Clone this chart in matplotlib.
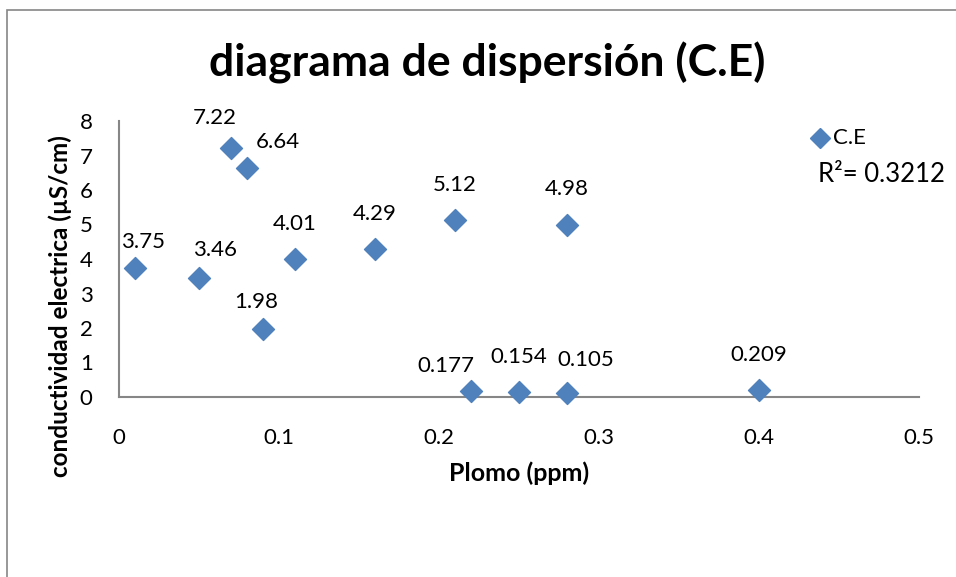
import matplotlib.pyplot as plt
from matplotlib.patches import Rectangle

# data
plomo = [0.01, 0.05, 0.07, 0.08, 0.09, 0.11, 0.16, 0.21, 0.28, 0.22, 0.25, 0.28, 0.40]
ce = [3.75, 3.46, 7.22, 6.64, 1.98, 4.01, 4.29, 5.12, 4.98, 0.177, 0.154, 0.105, 0.209]
etiquetas = ['3.75', '3.46', '7.22', '6.64', '1.98', '4.01', '4.29', '5.12', '4.98',
             '0.177', '0.154', '0.105', '0.209']
x_ticks = [0, 0.1, 0.2, 0.3, 0.4, 0.5]
y_ticks = [0, 1, 2, 3, 4, 5, 6, 7, 8]
r2 = 0.3212

# label offsets in pixels (dx, dy up)
offs = [(8, 26), (16, 28), (-16, 30), (31, 26), (-7, 27), (0, 35), (0, 35),
        (0, 35), (0, 36), (-25, 25), (0, 35), (19, 33), (0, 35)]

plt.rcParams['font.family'] = ['Lato', 'DejaVu Sans']
azul = '#4F81BD'
gris = '#868686'

fig = plt.figure(figsize=(9.56, 5.77), dpi=100)
# chart frame (only partly visible, like the screenshot)
fig.patches.append(Rectangle((7/956, -0.1), 1.0, 1 - 10/577 + 0.1, transform=fig.transFigure,
                             fill=False, edgecolor=gris, lw=1.2))

ax = fig.add_axes([119/956, 1 - 397/577, 800/956, 276/577])
ax.scatter(plomo, ce, marker='D', s=125, color=azul, zorder=3, clip_on=False)
for x, y, t, (dx, dy) in zip(plomo, ce, etiquetas, offs):
    ax.annotate(t, (x, y), xytext=(dx*0.72, dy*0.72), textcoords='offset points',
                ha='center', va='center', fontsize=16)

ax.set_xlim(0, 0.5)
ax.set_ylim(0, 8)
ax.set_xticks(x_ticks)
ax.set_xticklabels([f'{v:g}' for v in x_ticks])
ax.set_yticks(y_ticks)
ax.tick_params(length=0, labelsize=16)
ax.tick_params(axis='x', pad=22)
ax.tick_params(axis='y', pad=19)
for s in ['top', 'right']:
    ax.spines[s].set_visible(False)
for s in ['left', 'bottom']:
    ax.spines[s].set_color(gris)
    ax.spines[s].set_linewidth(1.5)

ax.set_xlabel('Plomo (ppm)', fontsize=18, fontweight='bold', va='center')
ax.xaxis.set_label_coords(0.5, -(473 - 397) / 276)
ax.set_ylabel('conductividad electrica (µS/cm)', fontsize=17.5, fontweight='bold', va='center')
ax.yaxis.set_label_coords(-(119 - 60) / 800, (397 - 306) / 276)

fig.text(487/956, 1 - 63/577, 'diagrama de dispersión (C.E)', ha='center', va='center',
         fontsize=32, fontweight='bold')

# legend-like entries
fig.lines.append(plt.Line2D([820/956], [1 - 138/577], marker='D', markersize=10, color=azul,
                            transform=fig.transFigure))
fig.text(833/956, 1 - 138/577, 'C.E', ha='left', va='center', fontsize=16)
fig.text(818/956, 1 - 175/577, f'R²= {r2}', ha='left', va='center', fontsize=18.5)

fig.savefig('out.png', dpi=100)
